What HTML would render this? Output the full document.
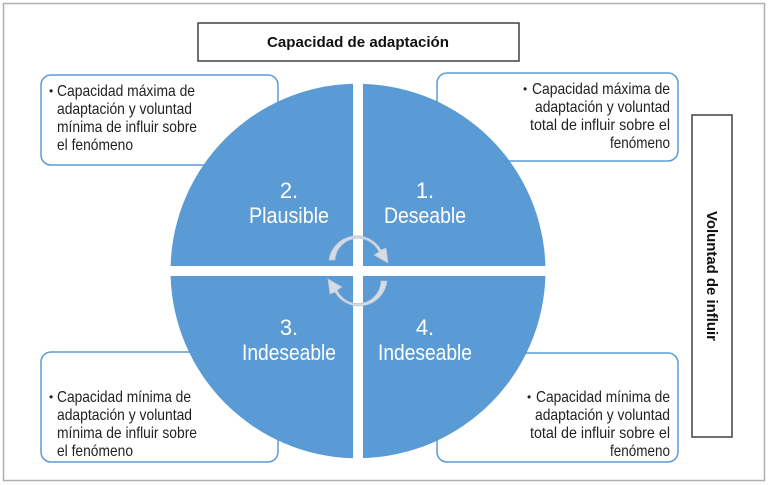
<!DOCTYPE html>
<html><head><meta charset="utf-8"><style>
html,body{margin:0;padding:0;background:#fff;}
svg{display:block;font-family:"Liberation Sans",Arial,sans-serif;}
</style></head><body>
<svg width="769" height="485" viewBox="0 0 769 485" xmlns="http://www.w3.org/2000/svg">
<rect x="3.5" y="3.5" width="761" height="477" fill="#fff" stroke="#b0b0b0" stroke-width="1.5"/>
<rect x="198" y="23" width="321" height="38" fill="#fff" stroke="#404040" stroke-width="1.5"/>
<text x="358" y="47" font-size="15" font-weight="bold" text-anchor="middle" fill="#111" textLength="182" lengthAdjust="spacingAndGlyphs">Capacidad de adaptación</text>
<rect x="692" y="115" width="40" height="322" fill="#fff" stroke="#404040" stroke-width="1.5"/>
<text transform="translate(707,276) rotate(90)" font-size="15" font-weight="bold" text-anchor="middle" fill="#111" textLength="130" lengthAdjust="spacingAndGlyphs">Voluntad de influir</text>
<g fill="#fff" stroke="#5b9bd5" stroke-width="1.5">
<rect x="41" y="75" width="237" height="90" rx="10"/>
<rect x="437" y="73" width="241" height="88" rx="10"/>
<rect x="41" y="352" width="237" height="110" rx="10"/>
<rect x="437" y="353" width="241" height="109" rx="10"/>
</g>
<g font-size="16" fill="#222" lengthAdjust="spacingAndGlyphs">
<text x="49" y="95" font-size="12">•</text>
<text x="57" y="96" textLength="138" lengthAdjust="spacingAndGlyphs">Capacidad máxima de</text>
<text x="57" y="114" textLength="135" lengthAdjust="spacingAndGlyphs">adaptación y voluntad</text>
<text x="57" y="132" textLength="140" lengthAdjust="spacingAndGlyphs">mínima de influir sobre</text>
<text x="57" y="150" textLength="76" lengthAdjust="spacingAndGlyphs">el fenómeno</text>
<text x="49" y="401" font-size="12">•</text>
<text x="57" y="402" textLength="134" lengthAdjust="spacingAndGlyphs">Capacidad mínima de</text>
<text x="57" y="420" textLength="135" lengthAdjust="spacingAndGlyphs">adaptación y voluntad</text>
<text x="57" y="438" textLength="140" lengthAdjust="spacingAndGlyphs">mínima de influir sobre</text>
<text x="57" y="456" textLength="76" lengthAdjust="spacingAndGlyphs">el fenómeno</text>
<text x="532" y="94" textLength="138" lengthAdjust="spacingAndGlyphs">Capacidad máxima de</text>
<text x="535" y="112" textLength="135" lengthAdjust="spacingAndGlyphs">adaptación y voluntad</text>
<text x="530" y="130" textLength="140" lengthAdjust="spacingAndGlyphs">total de influir sobre el</text>
<text x="610" y="148" textLength="60" lengthAdjust="spacingAndGlyphs">fenómeno</text>
<text x="536" y="402" textLength="134" lengthAdjust="spacingAndGlyphs">Capacidad mínima de</text>
<text x="535" y="420" textLength="135" lengthAdjust="spacingAndGlyphs">adaptación y voluntad</text>
<text x="530" y="438" textLength="140" lengthAdjust="spacingAndGlyphs">total de influir sobre el</text>
<text x="610" y="456" textLength="60" lengthAdjust="spacingAndGlyphs">fenómeno</text>
<text x="523" y="93" font-size="12">•</text>
<text x="527" y="401" font-size="12">•</text>
</g>
<g fill="#5b9bd5">
<path d="M353,266 L353,83.7 A187.5,187.5 0 0 0 170.6,266 Z"/>
<path d="M363,266 L363,83.9 A187.5,187.5 0 0 1 545.4,266 Z"/>
<path d="M353,276 L170.6,276 A187.5,187.5 0 0 0 353,458.3 Z"/>
<path d="M363,276 L545.4,276 A187.5,187.5 0 0 1 363,458.1 Z"/>
</g>
<g fill="#fff" font-size="22" text-anchor="middle">
<text x="289" y="198">2.</text><text x="289" y="223" textLength="80" lengthAdjust="spacingAndGlyphs">Plausible</text>
<text x="425" y="198">1.</text><text x="425" y="223" textLength="82" lengthAdjust="spacingAndGlyphs">Deseable</text>
<text x="289" y="335">3.</text><text x="289" y="360" textLength="94" lengthAdjust="spacingAndGlyphs">Indeseable</text>
<text x="425" y="335">4.</text><text x="425" y="360" textLength="94" lengthAdjust="spacingAndGlyphs">Indeseable</text>
</g>
<g fill="#d6dce6" stroke="#b9c4d6" stroke-width="0.8">
<path d="M329,260 A28,28 0 0 1 381,250 L386,248 L388,263 L374,255 L379,252 A23,23 0 0 0 335,260 Z"/>
<path d="M387,281 A28,28 0 0 1 335,292 L330,294 L328,279 L342,287 L337,290 A23,23 0 0 0 381,281 Z"/>
</g>
</svg>
</body></html>
